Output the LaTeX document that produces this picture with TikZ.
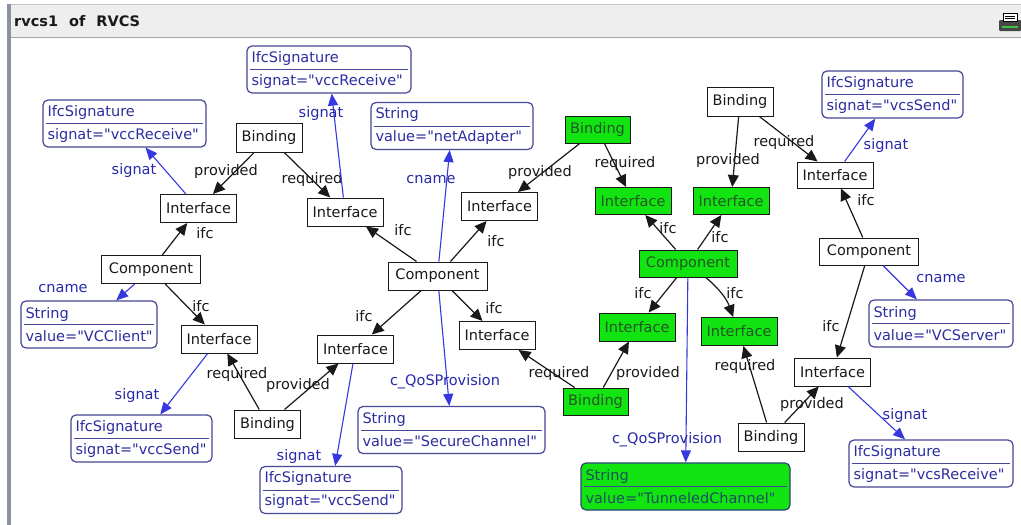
\documentclass[tikz,border=0pt]{standalone}
\usepackage{fontspec}
\setmainfont{DejaVu Sans}
\usetikzlibrary{arrows.meta}
\newcommand{\qd}{\textquotedbl}
\definecolor{grn}{RGB}{18,228,18}
\definecolor{grntxt}{RGB}{35,85,35}
\definecolor{recb}{RGB}{70,70,150}
\definecolor{rect}{RGB}{45,45,160}
\definecolor{bedge}{RGB}{55,55,225}
\definecolor{blbl}{RGB}{40,40,170}
\definecolor{ink}{RGB}{25,25,25}
\definecolor{barbg}{RGB}{238,238,238}
\definecolor{sidebar}{RGB}{138,145,160}
\tikzset{
  every node/.style={font=\fontsize{14.5}{17}\selectfont},
  box/.style={draw=ink, line width=1pt, fill=white, text=ink, minimum height=28pt, inner sep=0pt},
  ifbox/.style={box, minimum width=76pt},
  cmpbox/.style={box, minimum width=99pt},
  bndbox/.style={box, minimum width=66pt},
  gfill/.style={fill=grn, text=grntxt},
  rec/.style={draw=recb, line width=1.2pt, rounded corners=5pt, fill=white, text=rect, align=left,
    inner xsep=4.5pt, inner ysep=0pt, minimum height=47pt, font=\fontsize{14.5}{23}\selectfont,
    path picture={\draw[recb, line width=1pt] ([xshift=3pt]path picture bounding box.west) -- ([xshift=-3pt]path picture bounding box.east);}},
  grec/.style={rec, fill=grn, text={rgb,255:red,25;green,80;blue,95}, draw={rgb,255:red,40;green,70;blue,120}},
  ed/.style={draw=ink, line width=1.2pt, -{Triangle[length=12pt,width=11pt]}},
  bed/.style={draw=bedge, line width=1.1pt, -{Triangle[length=12pt,width=10pt]}},
  lbl/.style={text=ink, inner sep=0pt},
  blb/.style={text=blbl, inner sep=0pt}
}
\begin{document}
\begin{tikzpicture}[x=1pt,y=-1pt]
\useasboundingbox (0,0) rectangle (1021,525);
\fill[white] (0,0) rectangle (1021,525);
% window frame
\fill[barbg] (10,4) rectangle (1021,37);
\draw[gray!45, line width=1pt] (7,4) -- (1021,4);
\draw[gray!70, line width=1.6pt] (10,37.5) -- (1021,37.5);
\fill[sidebar] (7,4) rectangle (10.5,525);
\node[font=\bfseries\fontsize{14.5}{17}\selectfont, anchor=west, text=ink, inner sep=0pt] (title) at (14,21) {rvcs1\hspace{11pt}of\hspace{11pt}RVCS};
% printer icon
\fill[gray!55!black, rounded corners=1pt] (999,20) rectangle (1021,31);
\fill[white] (1003,13) rectangle (1017,21);
\draw[black, line width=0.6pt] (1003,13) rectangle (1017,21);
\draw[black, line width=0.5pt] (1005,16) -- (1015,16) (1005,18.5) -- (1015,18.5);
\fill[green!50!gray] (1002,26) rectangle (1018,28);

% record nodes
\node[rec, text width=154pt] (sigA) at (124.5,123.5) {IfcSignature\\signat=\qd vccReceive\qd};
\node[rec, text width=155pt] (sigB) at (329,69.5) {IfcSignature\\signat=\qd vccReceive\qd};
\node[rec, text width=127pt] (strClient) at (89,324.5) {String\\value=\qd VCClient\qd};
\node[rec, text width=132pt] (sigC) at (141.5,438.5) {IfcSignature\\signat=\qd vccSend\qd};
\node[rec, text width=133pt] (sigD) at (331,490) {IfcSignature\\signat=\qd vccSend\qd};
\node[rec, text width=153pt] (strNet) at (452,126) {String\\value=\qd netAdapter\qd};
\node[rec, text width=178pt] (strSecure) at (451.5,430) {String\\value=\qd SecureChannel\qd};
\node[grec, text width=200pt] (strTunnel) at (685.5,486.5) {String\\value=\qd TunneledChannel\qd};
\node[rec, text width=132pt] (sigE) at (892.5,94.5) {IfcSignature\\signat=\qd vcsSend\qd};
\node[rec, text width=135pt] (strServer) at (941,323.5) {String\\value=\qd VCServer\qd};
\node[rec, text width=155pt] (sigF) at (931,463.5) {IfcSignature\\signat=\qd vcsReceive\qd};

% plain nodes
\node[bndbox, minimum height=29pt] (bndA) at (269,137.5) {Binding};
\node[ifbox] (ifA) at (198.5,208.5) {Interface};
\node[ifbox] (ifB) at (345,212) {Interface};
\node[cmpbox] (cmpA) at (151,269.5) {Component};
\node[ifbox] (ifC) at (219,339) {Interface};
\node[bndbox] (bndB) at (267.5,424) {Binding};
\node[ifbox] (ifD) at (355.5,349) {Interface};
\node[cmpbox] (cmpB) at (437.5,276) {Component};
\node[ifbox] (ifE) at (499.5,206.5) {Interface};
\node[ifbox] (ifF) at (497,335.5) {Interface};
\node[bndbox, gfill, minimum width=65pt, minimum height=27pt] (gbA) at (597.5,129.5) {Binding};
\node[ifbox, gfill, minimum height=27pt] (gifA) at (633,201) {Interface};
\node[ifbox, gfill, minimum height=27pt] (gifB) at (731,201) {Interface};
\node[cmpbox, gfill, minimum width=98pt, minimum height=27pt] (gcmp) at (688,263.5) {Component};
\node[ifbox, gfill] (gifC) at (637,327) {Interface};
\node[ifbox, gfill] (gifD) at (739,331.5) {Interface};
\node[bndbox, gfill, minimum width=65pt, minimum height=27pt] (gbB) at (595.5,401.5) {Binding};
\node[bndbox, minimum height=29pt] (bndC) at (740,101.5) {Binding};
\node[ifbox, minimum height=26pt] (ifG) at (835,175) {Interface};
\node[cmpbox, minimum height=27pt] (cmpC) at (869,251.5) {Component};
\node[ifbox] (ifH) at (832.5,372) {Interface};
\node[bndbox] (bndD) at (771,437) {Binding};

% left cluster
\draw[bed] (ifA) -- (sigA) node[blb] at (134,170) {signat};
\draw[ed] (bndA) -- (ifA) node[lbl] at (226,171) {provided};
\draw[ed] (bndA) -- (ifB) node[lbl] at (312,179) {required};
\draw[bed] (ifB) -- (sigB) node[blb] at (321,113) {signat};
\draw[ed] (cmpA) -- (ifA) node[lbl] at (205,233) {ifc};
\draw[bed] (cmpA) -- (strClient) node[blb] at (63,289) {cname};
\draw[ed] (cmpA) -- (ifC) node[lbl] at (201,306) {ifc};
\draw[bed] (ifC) -- (sigC) node[blb] at (137,395) {signat};
\draw[ed] (bndB) -- (ifC) node[lbl] at (237,374) {required};
\draw[ed] (bndB) -- (ifD) node[lbl] at (298,385) {provided};
\draw[bed] (ifD) -- (sigD) node[blb] at (299,456) {signat};
% centre cluster
\draw[ed] (cmpB) -- (ifB) node[lbl] at (403,230) {ifc};
\draw[ed] (cmpB) -- (ifE) node[lbl] at (496,241) {ifc};
\draw[bed] (cmpB) -- (strNet) node[blb] at (431,180) {cname};
\draw[ed] (cmpB) -- (ifF) node[lbl] at (494,308) {ifc};
\draw[ed] (cmpB) -- (ifD) node[lbl] at (364,316) {ifc};
\draw[bed] (cmpB) -- (strSecure) node[blb] at (445,382) {c\_QoSProvision};
% green cluster
\draw[ed] (gbA) -- (ifE) node[lbl] at (540,172) {provided};
\draw[ed] (gbA) -- (gifA) node[lbl] at (625,163) {required};
\draw[ed] (gcmp) -- (gifA) node[lbl] at (668,228) {ifc};
\draw[ed] (gcmp) -- (gifB) node[lbl] at (720,237) {ifc};
\draw[ed] (gcmp) -- (gifC) node[lbl] at (643,293) {ifc};
\draw[ed] (gcmp) to[bend left=15] (gifD);
\node[lbl] (lblGD) at (735,293) {ifc};
\draw[bed] (gcmp) -- (strTunnel) node[blb] at (667,440) {c\_QoSProvision};
\draw[ed] (gbB) -- (ifF) node[lbl] at (559,373) {required};
\draw[ed] (gbB) -- (gifC) node[lbl] at (648,373) {provided};
% right cluster
\draw[ed] (bndC) -- (gifB) node[lbl] at (728,160) {provided};
\draw[ed] (bndC) -- (ifG) node[lbl] at (784,142) {required};
\draw[bed] (ifG) -- (sigE) node[blb] at (886,145) {signat};
\draw[ed] (cmpC) -- (ifG) node[lbl] at (866,200) {ifc};
\draw[bed] (cmpC) -- (strServer) node[blb] at (941,279) {cname};
\draw[ed] (cmpC) -- (ifH) node[lbl] at (831,326) {ifc};
\draw[bed] (ifH) -- (sigF) node[blb] at (905,415) {signat};
\draw[ed] (bndD) -- (gifD) node[lbl] at (745,366) {required};
\draw[ed] (bndD) -- (ifH) node[lbl] at (812,404) {provided};
\end{tikzpicture}
\end{document}
